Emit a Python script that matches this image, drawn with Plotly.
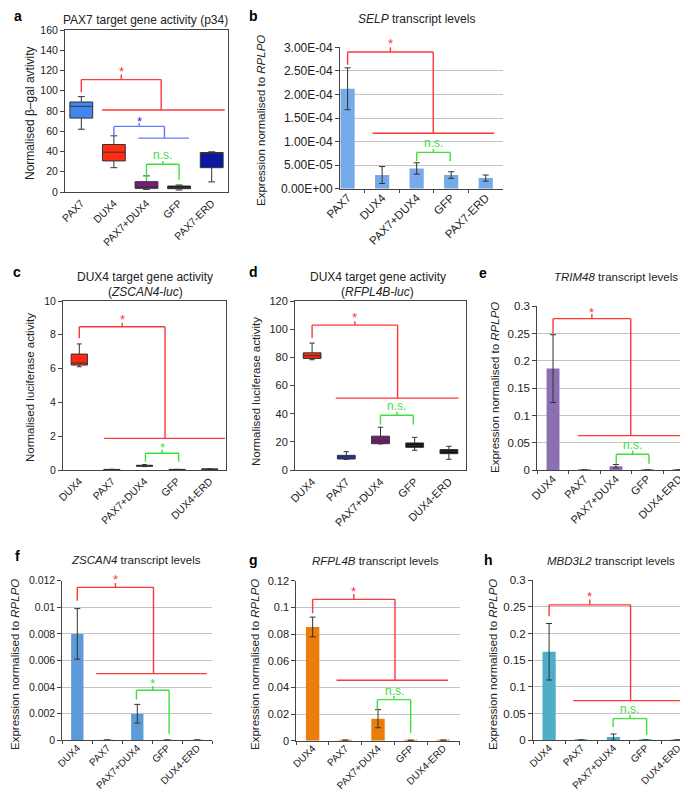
import plotly.graph_objects as go

W, H = 688, 792

# ---------------- data ----------------
cats_pax = ["PAX7", "DUX4", "PAX7+DUX4", "GFP", "PAX7-ERD"]
cats_dux = ["DUX4", "PAX7", "PAX7+DUX4", "GFP", "DUX4-ERD"]

# a: box plots (PAX7 target gene activity)
a_low = [62, 24, 2.6, 2.0, 10]
a_q1 = [73, 30.7, 3.6, 3.3, 24]
a_med = [84.6, 39.3, 5.0, 4.5, 38.3]
a_q3 = [88.9, 46.9, 10.2, 5.9, 39.0]
a_high = [94.2, 55.5, 15.9, 6.9, 39.7]

# b: SELP bars
b_vals = [2.12e-4, 0.29e-4, 0.43e-4, 0.29e-4, 0.225e-4]
b_err = [0.445e-4, 0.18e-4, 0.12e-4, 0.07e-4, 0.065e-4]
b_tickvals = [0, 5e-5, 1e-4, 1.5e-4, 2e-4, 2.5e-4, 3e-4]
b_ticktext = ["0.00E+00", "5.00E-05", "1.00E-04", "1.50E-04", "2.00E-04", "2.50E-04", "3.00E-04"]

# c: ZSCAN4-luc box plots
c_low = [6.11, 0.02, 0.20, 0.02, 0.03]
c_q1 = [6.21, 0.025, 0.22, 0.025, 0.04]
c_med = [6.33, 0.03, 0.25, 0.03, 0.05]
c_q3 = [6.86, 0.035, 0.28, 0.035, 0.06]
c_high = [7.46, 0.04, 0.32, 0.04, 0.07]

# d: RFPL4B-luc box plots
d_low = [78.3, 7.6, 18.5, 14.0, 7.6]
d_q1 = [79.2, 7.8, 18.7, 16.1, 11.6]
d_med = [81.1, 9.2, 20.4, 17.5, 13.3]
d_q3 = [83.2, 10.4, 24.0, 19.2, 14.5]
d_high = [90.1, 13.0, 30.4, 23.2, 16.8]

# e-h: transcript bars
e_vals = [0.186, 0.0005, 0.0075, 0.0005, 0.0005]
e_err = [0.062, None, 0.003, None, None]
f_vals = [0.0080, 0.00002, 0.0020, 0.00002, 0.00002]
f_err = [0.0019, None, 0.0007, None, None]
g_vals = [0.0853, 0.0004, 0.0165, 0.0003, 0.0004]
g_err = [0.0074, None, 0.0068, None, None]
h_vals = [0.166, 0.0005, 0.006, 0.0005, 0.0005]
h_err = [0.053, None, 0.0057, None, None]

# ---------------- styling / layout ----------------
FONT = "Liberation Sans, Arial, sans-serif"
RED = "rgb(255,55,55)"
GREEN = "rgb(60,225,60)"
BLUE_L = "rgb(95,125,250)"
BLUE_S = "rgb(30,40,235)"

# panel plot areas in pixels: left, right, top, bottom
PANELS = {
    "a": (57, 220, 22, 184),
    "b": (332, 495, 39.3, 180.7),
    "c": (55, 218, 293, 462),
    "d": (287, 458, 293, 462),
    "e": (529.3, 686.6, 298.3, 462.3),
    "f": (54.3, 204.3, 572.7, 732.3),
    "g": (288.3, 451.7, 572.7, 732.7),
    "h": (525, 686, 572.3, 732.3),
}
YTICKFONT = {"a": 10.5, "b": 12, "c": 10.5, "d": 11, "e": 11.5, "f": 10.5, "g": 11, "h": 11.5}
XTICKFONT = {"a": 10.5, "b": 11.5, "c": 10.5, "d": 11, "e": 11, "f": 10, "g": 10, "h": 10}
IDX = {k: i + 1 for i, k in enumerate("abcdefgh")}
YRANGE = {}


def refs(key):
    i = IDX[key]
    return ("x" if i == 1 else f"x{i}"), ("y" if i == 1 else f"y{i}")


fig = go.Figure()
layout = dict(width=W, height=H, autosize=False, margin=dict(l=0, r=0, t=0, b=0, pad=0),
              paper_bgcolor="white", plot_bgcolor="white", showlegend=False,
              boxmode="overlay", barmode="overlay", font=dict(family=FONT, size=10, color="#222"))
shapes, annotations = [], []


def axes(key, cats, yrange, xrange=(-0.5, 4.5), box=False, ytick=None, dtick=None):
    i = IDX[key]
    xr, yr = refs(key)
    l, r, t, b = PANELS[key]
    YRANGE[key] = yrange
    xa = dict(domain=[l / W, r / W], anchor=yr, type="category", categoryorder="array",
              categoryarray=cats, range=list(xrange), tickangle=-45, showline=True,
              linecolor="#444", linewidth=1, showgrid=False, zeroline=False, automargin=False,
              tickfont=dict(size=XTICKFONT[key], family=FONT, color="#222"), fixedrange=True)
    ya = dict(domain=[1 - b / H, 1 - t / H], anchor=xr, range=list(yrange), showline=True,
              linecolor="#444", linewidth=1, ticks="outside", ticklen=4, tickcolor="#444",
              zeroline=False, automargin=False,
              tickfont=dict(size=YTICKFONT[key], family=FONT, color="#222"), fixedrange=True)
    if box:
        xa.update(mirror=True, ticks="")
        ya.update(mirror=True, showgrid=False)
    else:
        xa.update(ticks="outside", tickson="boundaries", ticklen=3, tickcolor="#444",
                  ticklabelstandoff=-3)
        ya.update(showgrid=True, gridcolor="#c4c4c4", gridwidth=1)
    if ytick is not None:
        ya.update(tickmode="array", tickvals=ytick[0], ticktext=ytick[1])
    elif dtick is not None:
        ya.update(tick0=0, dtick=dtick)
    layout["xaxis" if i == 1 else f"xaxis{i}"] = xa
    layout["yaxis" if i == 1 else f"yaxis{i}"] = ya


def boxes(key, cats, low, q1, med, q3, high, colors, width):
    xr, yr = refs(key)
    for j, c in enumerate(cats):
        fig.add_trace(go.Box(x=[c], lowerfence=[low[j]], q1=[q1[j]], median=[med[j]],
                             q3=[q3[j]], upperfence=[high[j]], fillcolor=colors[j],
                             line=dict(color="#333", width=1), width=width, whiskerwidth=0.3,
                             boxpoints=False, hoverinfo="skip", xaxis=xr, yaxis=yr))


def bars(key, cats, vals, err, color):
    xr, yr = refs(key)
    fig.add_trace(go.Bar(x=cats, y=vals, width=0.41, marker=dict(color=color, line=dict(width=0)),
                         error_y=dict(type="data", array=err, color="#333", thickness=1, width=3),
                         hoverinfo="skip", xaxis=xr, yaxis=yr))


def line(key, x0, y0, x1, y1, color):
    xr, yr = refs(key)
    shapes.append(dict(type="line", xref=xr, yref=yr, x0=x0, y0=y0, x1=x1, y1=y1,
                       line=dict(color=color, width=1.4), layer="above"))


def ypaper(key, v):
    l, r, t, b = PANELS[key]
    r0, r1 = YRANGE[key]
    return 1 - (b - (v - r0) / (r1 - r0) * (b - t)) / H


def bracket(key, x0, x1, y, yl, yr_, ytick, color, label, ylab, labcolor=None, low=None,
            labsize=13):
    line(key, x0, yl, x0, y, color)
    line(key, x0, y, x1, y, color)
    line(key, x1, y, x1, yr_, color)
    xm = (x0 + x1) / 2
    line(key, xm, y, xm, ytick, color)
    if low is not None:
        line(key, low[0], yr_, low[1], yr_, color)
    xr, yr = refs(key)
    ys = -3 if label == "*" else 0
    annotations.append(dict(xref=xr, yref="paper", x=xm, y=ypaper(key, ylab), text=label,
                            showarrow=False, yshift=ys, xanchor="center", yanchor="middle",
                            font=dict(size=labsize, color=labcolor or color, family=FONT)))


def text(px, py, s, size=11.5, bold=False, angle=0, xanchor="center", color="#222"):
    annotations.append(dict(xref="paper", yref="paper", x=px / W, y=1 - py / H,
                            text=f"<b>{s}</b>" if bold else s, showarrow=False, textangle=angle,
                            xanchor=xanchor, yanchor="middle",
                            font=dict(size=size, family=FONT, color=color)))


# ----- panel a -----
axes("a", cats_pax, (0, 160), box=True, dtick=20)
boxes("a", cats_pax, a_low, a_q1, a_med, a_q3, a_high,
      ["rgb(66,135,240)", "rgb(255,45,20)", "rgb(125,25,125)", "rgb(10,10,10)", "rgb(10,25,160)"], 0.7)
bracket("a", 0, 2.45, 111, 98.5, 81, 116, RED, "*", 121.6, low=(0.64, 4.4))
bracket("a", 1, 2.55, 64.8, 55.5, 53.2, 68.3, BLUE_L, "*", 73, labcolor=BLUE_S, low=(1.75, 3.3))
bracket("a", 2, 3, 27.4, 11, 12, 30.6, GREEN, "n.s.", 37, labsize=12)

# ----- panel b -----
axes("b", cats_pax, (0, 3e-4), xrange=(-0.22, 4.5), ytick=(b_tickvals, b_ticktext))
bars("b", cats_pax, b_vals, b_err, "rgb(118,170,232)")
bracket("b", 0, 2.48, 2.90e-4, 2.63e-4, 1.175e-4, 3.0e-4, RED, "*", 3.14e-4, low=(0.72, 4.24))
bracket("b", 2, 2.97, 0.77e-4, 0.58e-4, 0.58e-4, 0.84e-4, GREEN, "n.s.", 0.97e-4, labsize=12)

# ----- panel c -----
axes("c", cats_dux, (0, 10), box=True, dtick=2)
boxes("c", cats_dux, c_low, c_q1, c_med, c_q3, c_high,
      ["rgb(255,40,20)", "rgb(20,20,60)", "rgb(15,15,15)", "rgb(15,15,15)", "rgb(15,15,15)"], 0.5)
bracket("c", 0, 2.63, 8.48, 7.8, 1.87, 8.72, RED, "*", 9.1, low=(0.76, 4.47))
bracket("c", 2.03, 3.05, 0.99, 0.49, 0.49, 1.2, GREEN, "*", 1.52)

# ----- panel d -----
axes("d", cats_dux, (0, 120), box=True, dtick=20)
boxes("d", cats_dux, d_low, d_q1, d_med, d_q3, d_high,
      ["rgb(255,40,20)", "rgb(20,50,215)", "rgb(120,25,120)", "rgb(10,10,10)", "rgb(10,10,10)"], 0.52)
bracket("d", 0, 2.5, 102.9, 93.7, 51, 105.7, RED, "*", 110.5, low=(0.69, 4.28))
bracket("d", 2.0, 2.96, 38.9, 32.3, 32.3, 41.3, GREEN, "n.s.", 45.3, labsize=12)

# ----- panel e -----
axes("e", cats_dux, (0, 0.3), dtick=0.05)
bars("e", cats_dux, e_vals, e_err, "rgb(138,112,178)")
bracket("e", 0, 2.47, 0.2774, 0.25, 0.0634, 0.286, RED, "*", 0.295, low=(0.79, 4.31))
bracket("e", 2.01, 3.05, 0.0293, 0.012, 0.012, 0.036, GREEN, "n.s.", 0.047, labsize=12)

# ----- panel f -----
axes("f", cats_dux, (0, 0.012), dtick=0.002)
bars("f", cats_dux, f_vals, f_err, "rgb(92,155,215)")
bracket("f", 0, 2.54, 0.0115, 0.0105, 0.00501, 0.01183, RED, "*", 0.01228, low=(0.63, 4.32))
bracket("f", 1.97, 3.06, 0.00376, 0.00306, 0.0005, 0.00406, GREEN, "*", 0.00451)

# ----- panel g -----
axes("g", cats_dux, (0, 0.12), dtick=0.02)
bars("g", cats_dux, g_vals, g_err, "rgb(235,125,10)")
bracket("g", 0, 2.52, 0.106, 0.0955, 0.0453, 0.110, RED, "*", 0.1145, low=(0.73, 4.14))
bracket("g", 1.98, 3.0, 0.0308, 0.0233, 0.00575, 0.0338, GREEN, "n.s.", 0.037, labsize=12)

# ----- panel h -----
axes("h", cats_dux, (0, 0.3), dtick=0.05)
bars("h", cats_dux, h_vals, h_err, "rgb(78,174,200)")
bracket("h", 0, 2.53, 0.254, 0.2325, 0.0744, 0.264, RED, "*", 0.275, low=(0.75, 4.19))
bracket("h", 1.99, 3.03, 0.0406, 0.025, 0.0106, 0.048, GREEN, "n.s.", 0.0588, labsize=12)

# ----- titles, letters, axis titles -----
text(137, 12, "PAX7 target gene activity (p34)", size=12)
text(408, 11, "<i>SELP</i> transcript levels", size=12)
text(137, 269, "DUX4 target gene activity", size=12)
text(137, 284, "(<i>ZSCAN4-luc</i>)", size=12)
text(370, 269, "DUX4 target gene activity", size=12)
text(370, 284, "(<i>RFPL4B-luc</i>)", size=12)
text(608, 269, "<i>TRIM48</i> transcript levels", size=11.5)
text(128, 552, "<i>ZSCAN4</i> transcript levels", size=11.5)
text(368, 553, "<i>RFPL4B</i> transcript levels", size=11.5)
text(603, 553, "<i>MBD3L2</i> transcript levels", size=11.5)

for L, px, py in [("a", 10, 8), ("b", 245, 8), ("c", 9, 264), ("d", 245, 264), ("e", 475, 265),
                  ("f", 9, 548), ("g", 245, 552), ("h", 480, 552)]:
    text(px, py, L, size=14, bold=True, color="#000")

text(22, 105, "Normalised β–gal avtivity", size=12, angle=-90)
text(253, 113, "Expression normalised to <i>RPLPO</i>", size=11.5, angle=-90)
text(22, 380, "Normalised luciferase activity", size=11.5, angle=-90)
text(248, 383, "Normalised luciferase activity", size=11.5, angle=-90)
text(487, 380, "Expression normalised to <i>RPLPO</i>", size=11.5, angle=-90)
text(7, 657, "Expression normalised to <i>RPLPO</i>", size=11.5, angle=-90)
text(247, 657, "Expression normalised to <i>RPLPO</i>", size=11.5, angle=-90)
text(485, 657, "Expression normalised to <i>RPLPO</i>", size=11.5, angle=-90)

layout["shapes"] = shapes
layout["annotations"] = annotations
fig.update_layout(**layout)
fig.write_html("out.html", config={"displayModeBar": False})
